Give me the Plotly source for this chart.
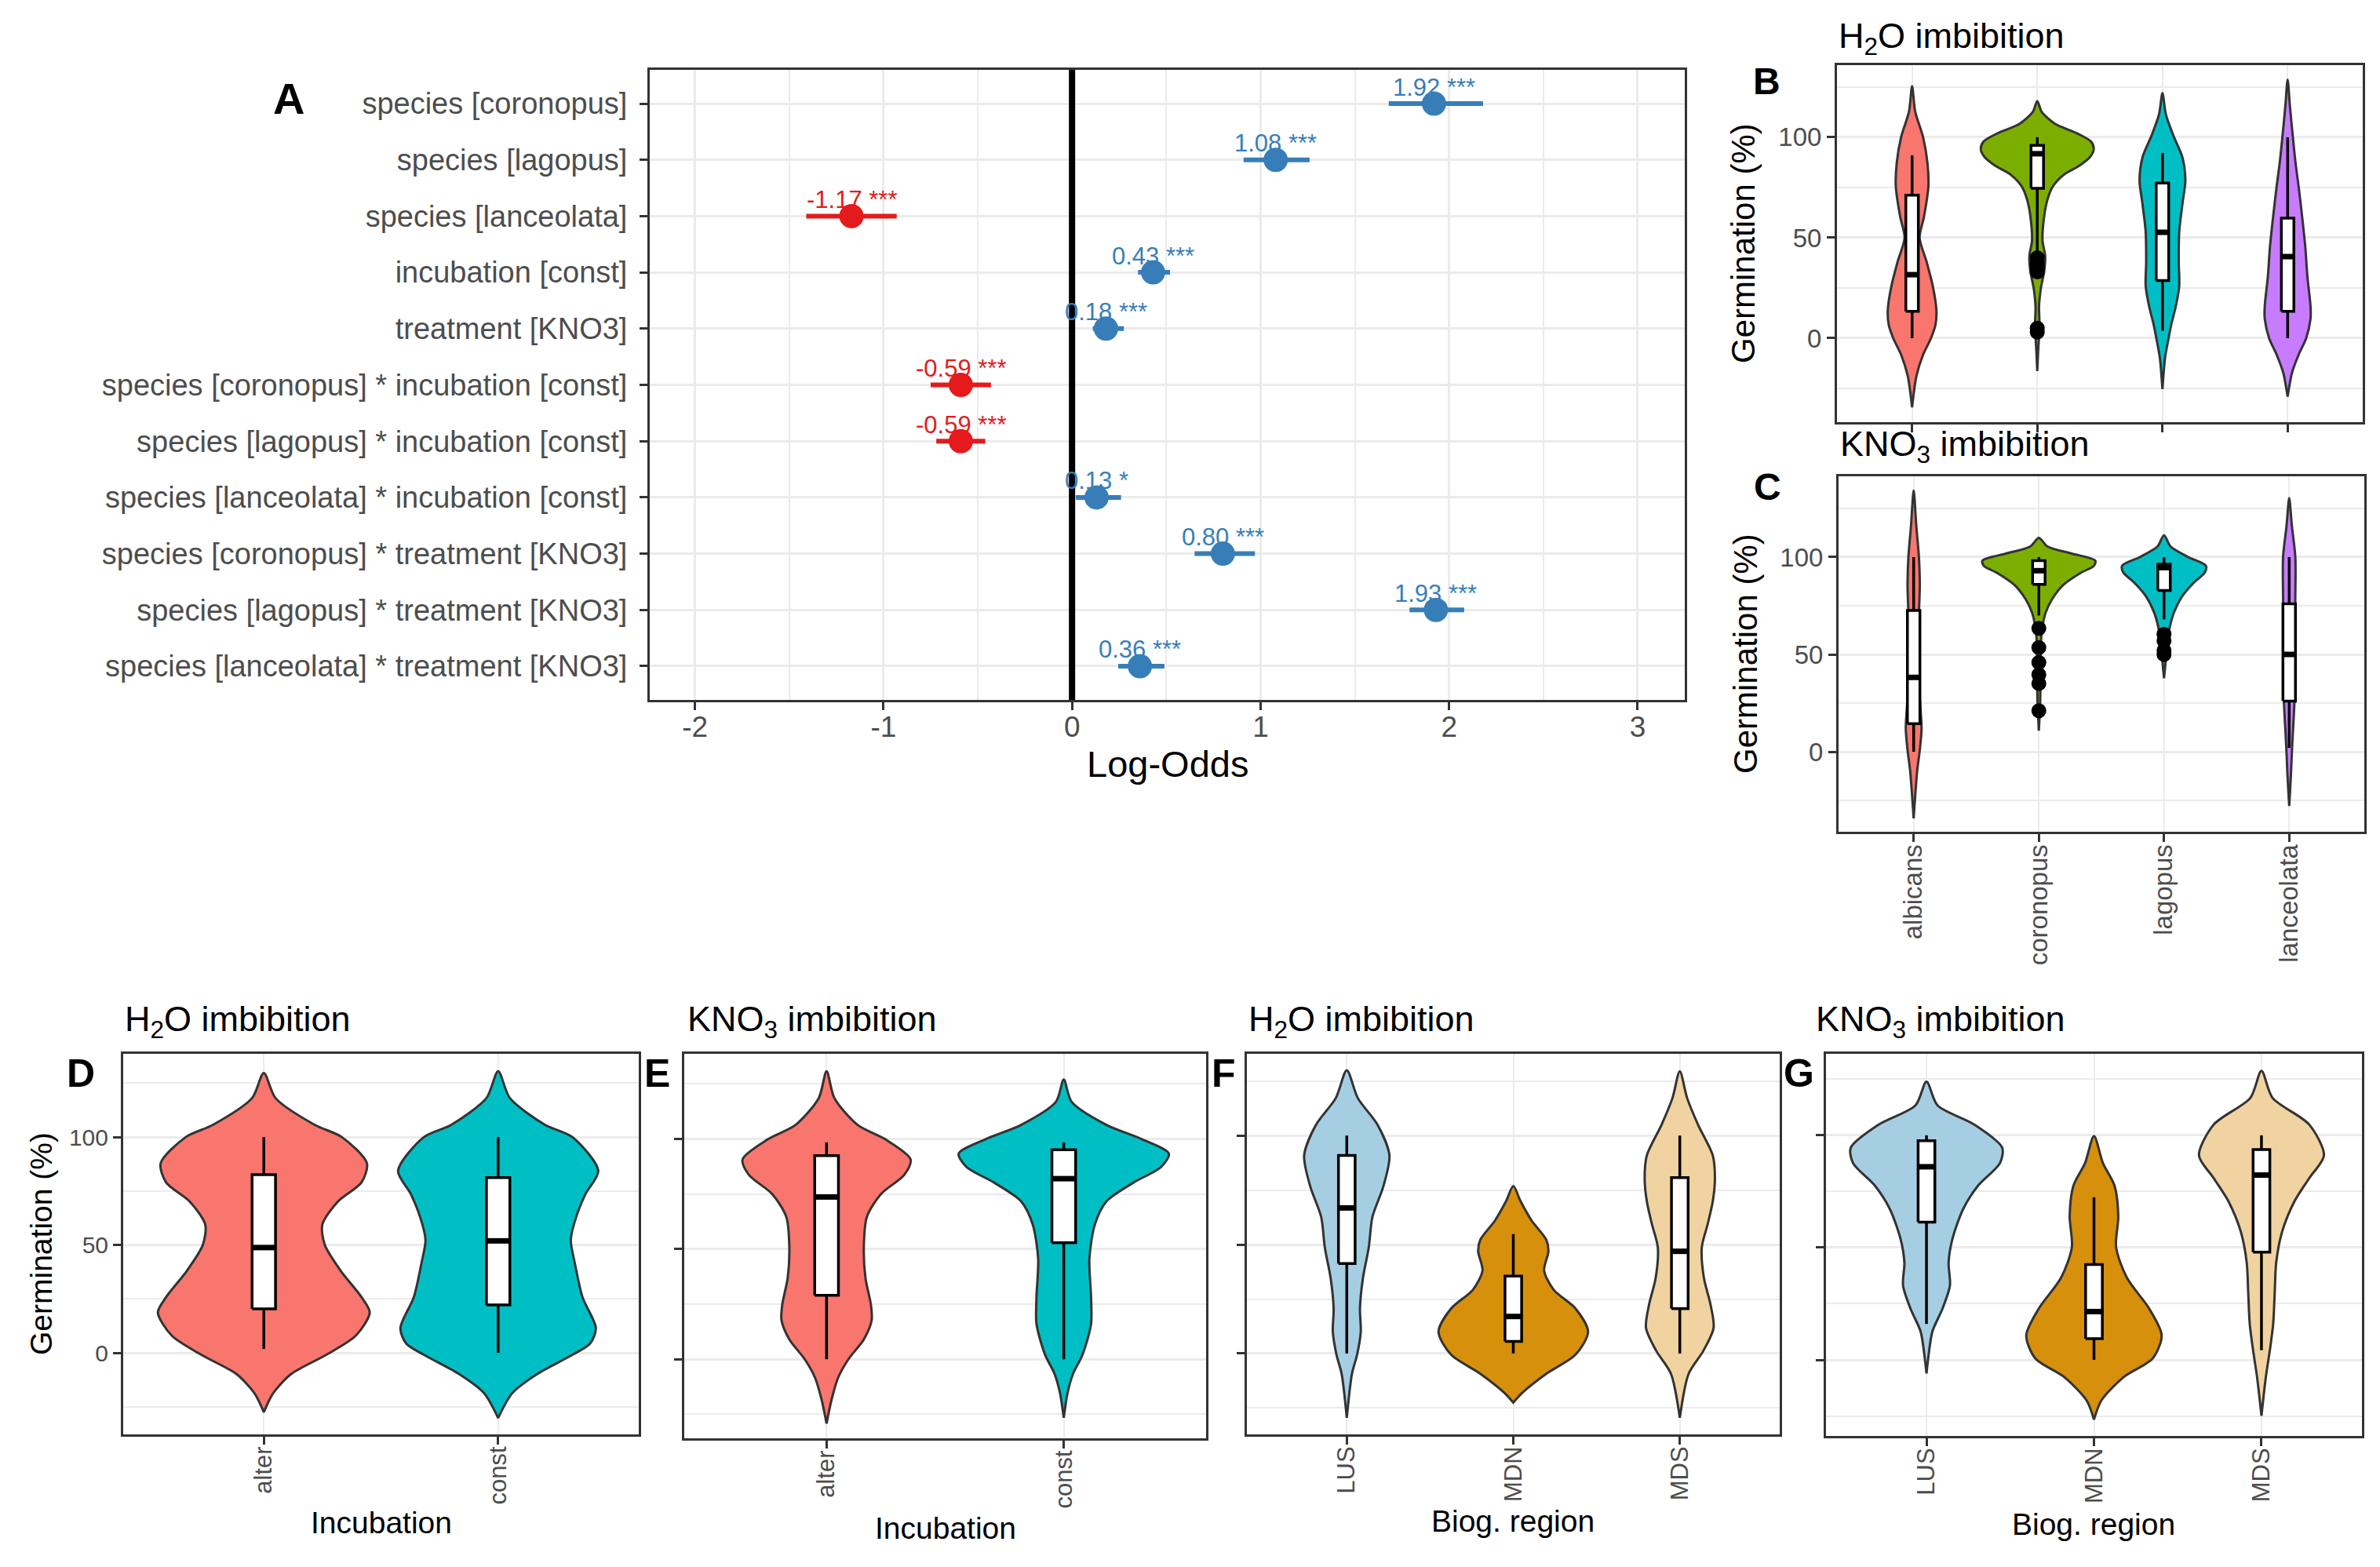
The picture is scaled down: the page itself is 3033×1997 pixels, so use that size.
import plotly.graph_objects as go

W, H = 3033, 1997
FONT = "Liberation Sans, Arial, sans-serif"
GRID = "#EBEBEB"
BORDER = "#333333"
TICKTXT = "#4D4D4D"

# ---------------- Panel A data ----------------
terms = ["species [coronopus]", "species [lagopus]", "species [lanceolata]",
         "incubation [const]", "treatment [KNO3]",
         "species [coronopus] * incubation [const]",
         "species [lagopus] * incubation [const]",
         "species [lanceolata] * incubation [const]",
         "species [coronopus] * treatment [KNO3]",
         "species [lagopus] * treatment [KNO3]",
         "species [lanceolata] * treatment [KNO3]"]
estimates = [1.92, 1.08, -1.17, 0.43, 0.18, -0.59, -0.59, 0.13, 0.80, 1.93, 0.36]
ci_low = [1.68, 0.91, -1.41, 0.35, 0.11, -0.75, -0.72, 0.02, 0.65, 1.79, 0.245]
ci_high = [2.18, 1.26, -0.93, 0.52, 0.275, -0.43, -0.46, 0.26, 0.97, 2.08, 0.49]
stars = ["***", "***", "***", "***", "***", "***", "***", "*", "***", "***", "***"]
a_xticks = [-2, -1, 0, 1, 2, 3]

# ---------------- Panel B (H2O, species) ----------------
species = ["albicans", "coronopus", "lagopus", "lanceolata"]
species_colors = ["#F8766D", "#7CAE00", "#00BFC4", "#C77CFF"]
B_dens_y = [
    [125.4, 112.7, 100, 87, 75.4, 60.4, 50, 38, 26, 14, 6.7, 0, -8.2, -18.7, -34.4],
    [118, 112.7, 106.7, 102, 97.8, 94, 90.3, 85.8, 81.3, 75.4, 68, 57.5, 48.5, 41, 33.6, 24.6, 15.7, 6.7, 0.7, -6.7, -16.4],
    [121.9, 111.2, 100.7, 90.3, 78.4, 68, 53, 38, 26, 15.7, 6.7, 0, -9.7, -25.4],
    [128.7, 115.7, 100, 87.3, 75.4, 60.4, 45.5, 30.6, 15.7, 9.7, 0, -8.2, -17.2, -29.1],
]
B_dens_w = [
    [0, .025, .088, .123, .130, .095, .060, .116, .165, .194, .187, .151, .088, .035, 0],
    [0, .035, .141, .317, .430, .451, .423, .335, .211, .123, .077, .049, .042, .063, .056, .028, .014, .018, .014, .007, 0],
    [0, .028, .088, .158, .183, .162, .134, .130, .134, .106, .070, .049, .021, 0],
    [0, .018, .042, .063, .088, .116, .141, .158, .183, .183, .148, .088, .035, 0],
]
B_lower = [0, 42, 3.7, 0]
B_q1 = [13.4, 74.6, 28.7, 13.4]
B_med = [31.6, 91.8, 52.7, 40.6]
B_q3 = [71.2, 96, 77.2, 59.7]
B_upper = [91, 100, 92.2, 100]
B_out = [[], [40, 37, 35, 33, 5, 3], [], []]

# ---------------- Panel C (KNO3, species) ----------------
C_dens_y = [
    [134.2, 116.2, 100, 85.6, 71.2, 53.2, 35.1, 20.7, 11.7, 0.9, -9.9, -34.2],
    [109.9, 105.4, 101.8, 98.2, 95.5, 91.9, 85.6, 78.4, 71.2, 60.4, 44.1, 26.1, 10.8],
    [111.2, 105.4, 100, 95.5, 91.9, 87.4, 80.2, 71.2, 60.4, 49.5, 37.8],
    [130.3, 116.2, 100, 80.2, 62.2, 44.1, 26.1, 8.1, -0.9, -11.7, -27.9],
]
C_dens_w = [
    [0, .021, .042, .049, .042, .035, .042, .056, .063, .049, .028, 0],
    [0, .070, .264, .451, .440, .335, .194, .106, .053, .021, .014, .011, 0],
    [0, .053, .194, .335, .324, .246, .148, .077, .035, .018, 0],
    [0, .021, .049, .049, .046, .042, .042, .028, .021, .014, 0],
]
C_lower = [0, 70, 68, 2]
C_q1 = [14.4, 86, 82.9, 26]
C_med = [38.2, 93, 94.6, 50]
C_q3 = [72.6, 98.2, 96.4, 76]
C_upper = [100, 100, 100, 100]
C_out = [[], [63.4, 53.5, 45.9, 39.6, 35.1, 21.1], [60.4, 57, 52, 50], []]

# ---------------- Panels D, E (incubation) ----------------
incubation = ["alter", "const"]
incubation_colors = ["#F8766D", "#00BFC4"]
D_dens_y = [
    [129.7, 118.1, 105.7, 100, 87.9, 79, 70.2, 59.5, 50.1, 38.2, 25.8, 18.7, 8, -0.9, -9.8, -18.7, -27.5],
    [130.5, 118.1, 105.7, 100, 84.4, 73.7, 63, 52.4, 41.7, 25.8, 11.5, 4.4, -0.9, -9.8, -18.7, -30.2],
]
D_dens_w = [
    [0, .05, .217, .333, .44, .417, .317, .25, .26, .327, .417, .452, .393, .267, .117, .04, 0],
    [0, .05, .2, .317, .427, .373, .333, .31, .327, .36, .417, .393, .317, .167, .06, 0],
]
D_lower = [1.8, 0]
D_q1 = [20.4, 22.2]
D_med = [48.8, 51.9]
D_q3 = [82.6, 81.2]
D_upper = [100, 100]

E_dens_y = [
    [130.8, 118.6, 106.4, 100, 90.8, 83.8, 75.1, 64.7, 50.8, 36.9, 24.7, 17.7, 9, 0, -8.3, -18.8, -29.2],
    [127, 116.9, 106.4, 100, 93.4, 87.3, 80.3, 71.7, 61.2, 45.6, 28.2, 16, 2.1, -6.6, -15.3, -26.6],
]
E_dens_w = [
    [0, .033, .131, .246, .354, .328, .230, .170, .157, .164, .187, .190, .157, .092, .049, .020, 0],
    [0, .033, .180, .328, .443, .410, .295, .180, .131, .108, .115, .115, .079, .039, .016, 0],
]
E_lower = [0, 0]
E_q1 = [29, 52.9]
E_med = [73.7, 82]
E_q3 = [92.5, 95.1]
E_upper = [98.5, 98.5]

# ---------------- Panels F, G (biogeographic region) ----------------
regions = ["LUS", "MDN", "MDS"]
region_colors = ["#A6CEE3", "#D6900C", "#F1D3A1"]
F_dens_y = [
    [129.9, 117.2, 104.9, 90.9, 76.8, 62.7, 48.7, 34.6, 20.6, 10, -0.5, -9.3, -29.5],
    [76.8, 69.8, 61, 52.2, 46.9, 38.1, 29.3, 20.6, 10, -0.5, -9.3, -18.1, -22.5],
    [129.5, 117.2, 104.9, 90.9, 80.3, 69.8, 59.2, 48.7, 34.6, 22.3, 11.8, 1.2, -9.3, -29.5],
]
F_dens_w = [
    [0, .066, .185, .256, .220, .154, .132, .097, .079, .084, .062, .031, 0],
    [0, .044, .110, .198, .211, .185, .242, .374, .449, .374, .198, .053, 0],
    [0, .044, .110, .198, .211, .198, .167, .132, .145, .185, .203, .141, .053, 0],
]
F_lower = [0, 0, 0]
F_q1 = [41.3, 5.6, 20.6]
F_med = [66.8, 17, 46.9]
F_q3 = [90.9, 35.5, 80.7]
F_upper = [100, 54.8, 100]

G_dens_y = [
    [123.9, 113.3, 104.8, 94.5, 87.7, 77.5, 67.2, 53.6, 43.3, 33.1, 22.9, 12.6, 2.4, -6.1],
    [99.7, 87.7, 77.5, 63.8, 50.2, 36.5, 22.9, 10.9, 0.7, -7.8, -18.1, -26.6],
    [128.7, 116.7, 104.8, 91.1, 80.9, 70.6, 57, 43.3, 29.7, 16, 5.8, -7.8, -24.9],
]
G_dens_w = [
    [0, .066, .285, .452, .439, .307, .219, .154, .132, .140, .096, .035, .013, 0],
    [0, .053, .123, .145, .132, .197, .329, .404, .351, .175, .044, 0],
    [0, .066, .285, .373, .285, .197, .123, .088, .079, .070, .053, .026, 0],
]
G_lower = [16, 0, 4.3]
G_q1 = [61.3, 9.4, 48]
G_med = [86, 21.5, 82.3]
G_q3 = [97.6, 42.5, 93.7]
G_upper = [100, 72.4, 100]

germ_ticks = [0, 50, 100]
BOX_HALF = 0.05  # half box width in category units (style)

# ---------------- helpers ----------------
def fx(p):
    return p / W


def fy(p):
    return 1 - p / H


fig = go.Figure()
annotations = []

# ---------------- Panel A ----------------
rows = list(range(1, len(terms) + 1))
cols = ["#377EB8" if e > 0 else "#E41A1C" for e in estimates]
for sign, colr in [(1, "#377EB8"), (-1, "#E41A1C")]:
    idx = [i for i, e in enumerate(estimates) if e * sign > 0]
    fig.add_trace(go.Scatter(
        x=[estimates[i] for i in idx], y=[rows[i] for i in idx], mode="markers",
        marker=dict(size=31, color=colr),
        error_x=dict(type="data", symmetric=False,
                     array=[ci_high[i] - estimates[i] for i in idx],
                     arrayminus=[estimates[i] - ci_low[i] for i in idx],
                     thickness=6, width=0, color=colr),
        xaxis="x", yaxis="y", showlegend=False, hoverinfo="skip"))
for e, r, s, c in zip(estimates, rows, stars, cols):
    annotations.append(dict(x=e, y=r, xref="x", yref="y", text=f"{e:.2f} {s}",
                            showarrow=False, yshift=21, xanchor="center", yanchor="middle",
                            font=dict(size=31, color=c, family=FONT)))

fig.add_shape(type="line", x0=0, x1=0, y0=0, y1=1, xref="x", yref="y domain",
              line=dict(color="black", width=8))

layout_axes = {}
layout_axes["xaxis"] = dict(
    domain=[fx(820), fx(2139)], range=[-2.24, 3.25], anchor="y",
    tickmode="array", tickvals=a_xticks, ticktext=[str(t) for t in a_xticks],
    minor=dict(tickmode="array", tickvals=[-2.5, -1.5, -0.5, 0.5, 1.5, 2.5],
               showgrid=True, gridcolor=GRID, gridwidth=1.5, ticks=""),
    showgrid=True, gridcolor=GRID, gridwidth=3, zeroline=False,
    showline=True, mirror=True, linecolor=BORDER, linewidth=3,
    ticks="outside", ticklen=10, tickwidth=3, tickcolor=BORDER, ticklabelstandoff=-10,
    tickfont=dict(size=37, color=TICKTXT, family=FONT))
layout_axes["yaxis"] = dict(
    domain=[fy(884), fy(81)], range=[11.6, 0.4], anchor="x",
    tickmode="array", tickvals=rows, ticktext=terms,
    showgrid=True, gridcolor=GRID, gridwidth=3, zeroline=False,
    showline=True, mirror=True, linecolor=BORDER, linewidth=3,
    ticks="outside", ticklen=10, tickwidth=3, tickcolor=BORDER, ticklabelstandoff=8,
    tickfont=dict(size=38, color=TICKTXT, family=FONT))
annotations.append(dict(x=fx(1480), y=fy(965), xref="paper", yref="paper",
                        text="Log-Odds", showarrow=False, xanchor="center", yanchor="middle",
                        font=dict(size=47, color="black", family=FONT)))


# ---------------- violin panels ----------------
def violin_panel(idx, cats, colors, dens_y, dens_w, lower, q1, med, q3, upper,
                 outliers, xdom, ydom, yrange, show_y, show_x, xfont, yfont):
    xa = f"x{idx}"
    ya = f"y{idx}"
    pos = list(range(1, len(cats) + 1))
    # violins (density outlines)
    for c, col, ys, ws in zip(pos, colors, dens_y, dens_w):
        xs = [c + w for w in ws] + [c - w for w in reversed(ws)]
        yy = list(ys) + list(reversed(ys))
        fig.add_trace(go.Scatter(x=xs, y=yy, mode="lines", fill="toself",
                                 fillcolor=col,
                                 line=dict(color=BORDER, width=3, shape="spline", smoothing=0.8),
                                 xaxis=xa, yaxis=ya, showlegend=False, hoverinfo="skip"))
    # box plots
    for i, c in enumerate(pos):
        fig.add_trace(go.Scatter(x=[c, c, None, c, c], y=[lower[i], q1[i], None, q3[i], upper[i]],
                                 mode="lines", line=dict(color="black", width=3.5),
                                 xaxis=xa, yaxis=ya, showlegend=False, hoverinfo="skip"))
        fig.add_trace(go.Scatter(x=[c - BOX_HALF, c + BOX_HALF, c + BOX_HALF, c - BOX_HALF, c - BOX_HALF],
                                 y=[q1[i], q1[i], q3[i], q3[i], q1[i]],
                                 mode="lines", fill="toself", fillcolor="white",
                                 line=dict(color="black", width=3.5),
                                 xaxis=xa, yaxis=ya, showlegend=False, hoverinfo="skip"))
        fig.add_trace(go.Scatter(x=[c - BOX_HALF, c + BOX_HALF], y=[med[i], med[i]], mode="lines",
                                 line=dict(color="black", width=7),
                                 xaxis=xa, yaxis=ya, showlegend=False, hoverinfo="skip"))
    if outliers:
        for c, outs in zip(pos, outliers):
            if outs:
                fig.add_trace(go.Scatter(x=[c] * len(outs), y=outs, mode="markers",
                                         marker=dict(size=19, color="black"),
                                         xaxis=xa, yaxis=ya, showlegend=False, hoverinfo="skip"))
    layout_axes[f"xaxis{idx}"] = dict(
        domain=[fx(xdom[0]), fx(xdom[1])], range=[0.4, len(cats) + 0.6], anchor=ya,
        tickmode="array", tickvals=pos, ticktext=cats, showticklabels=show_x, tickangle=-90,
        showgrid=True, gridcolor=GRID, gridwidth=2, zeroline=False,
        showline=True, mirror=True, linecolor=BORDER, linewidth=3,
        ticks="outside", ticklen=10, tickwidth=3, tickcolor=BORDER, ticklabelstandoff=-10,
        tickfont=dict(size=xfont, color=TICKTXT, family=FONT))
    layout_axes[f"yaxis{idx}"] = dict(
        domain=[fy(ydom[1]), fy(ydom[0])], range=yrange, anchor=xa,
        tickmode="array", tickvals=germ_ticks, ticktext=[str(t) for t in germ_ticks],
        showticklabels=show_y,
        minor=dict(tickmode="array", tickvals=[-25, 25, 75, 125], showgrid=True,
                   gridcolor=GRID, gridwidth=1.5, ticks=""),
        showgrid=True, gridcolor=GRID, gridwidth=3, zeroline=False,
        showline=True, mirror=True, linecolor=BORDER, linewidth=3,
        ticks="outside", ticklen=10, tickwidth=3, tickcolor=BORDER,
        tickfont=dict(size=yfont, color=TICKTXT, family=FONT))


violin_panel(2, species, species_colors, B_dens_y, B_dens_w, B_lower, B_q1, B_med, B_q3, B_upper,
             B_out, (2333, 3003), (75, 530), [-41.8, 135.9], True, False, 33, 33)
violin_panel(3, species, species_colors, C_dens_y, C_dens_w, C_lower, C_q1, C_med, C_q3, C_upper,
             C_out, (2335, 3005), (599, 1052), [-41.1, 141.5], True, True, 33, 33)
violin_panel(4, incubation, incubation_colors, D_dens_y, D_dens_w, D_lower, D_q1, D_med, D_q3, D_upper,
             None, (149, 806), (1335, 1820), [-37.8, 138.6], True, True, 31, 30)
violin_panel(5, incubation, incubation_colors, E_dens_y, E_dens_w, E_lower, E_q1, E_med, E_q3, E_upper,
             None, (864, 1529), (1335, 1825), [-35.9, 138.7], False, True, 31, 30)
violin_panel(6, regions, region_colors, F_dens_y, F_dens_w, F_lower, F_q1, F_med, F_q3, F_upper,
             None, (1581, 2260), (1335, 1820), [-37.1, 137.5], False, True, 31, 30)
violin_panel(7, regions, region_colors, G_dens_y, G_dens_w, G_lower, G_q1, G_med, G_q3, G_upper,
             None, (2319, 3002), (1335, 1822), [-33.9, 136.3], False, True, 31, 30)

# titles
h2o = "H<sub>2</sub>O imbibition"
kno3 = "KNO<sub>3</sub> imbibition"
for txt, x0, yc in [(h2o, 2333, 40), (kno3, 2335, 560), (h2o, 149, 1293),
                    (kno3, 866, 1293), (h2o, 1581, 1293), (kno3, 2304, 1293)]:
    annotations.append(dict(x=fx(x0), y=fy(yc), xref="paper", yref="paper", text=txt,
                            showarrow=False, xanchor="left", yanchor="middle",
                            font=dict(size=45, color="black", family=FONT)))

# axis titles
for xc, yc, sz in [(2214, 302, 42), (2217, 825, 42), (44, 1577, 39)]:
    annotations.append(dict(x=fx(xc), y=fy(yc), xref="paper", yref="paper",
                            text="Germination (%)", textangle=-90, showarrow=False,
                            xanchor="center", yanchor="middle",
                            font=dict(size=sz, color="black", family=FONT)))
for txt, xc, yc in [("Incubation", 478, 1932), ("Incubation", 1197, 1939),
                    ("Biog. region", 1920, 1930), ("Biog. region", 2660, 1934)]:
    annotations.append(dict(x=fx(xc), y=fy(yc), xref="paper", yref="paper", text=txt,
                            showarrow=False, xanchor="center", yanchor="middle",
                            font=dict(size=39, color="black", family=FONT)))

# panel letters
for txt, xc, yc, sz in [("A", 360, 118, 56), ("B", 2243, 95, 48), ("C", 2244, 612, 48),
                        ("D", 95, 1360, 50), ("E", 829, 1360, 50), ("F", 1551, 1360, 50),
                        ("G", 2284, 1360, 50)]:
    annotations.append(dict(x=fx(xc), y=fy(yc), xref="paper", yref="paper",
                            text=f"<b>{txt}</b>", showarrow=False,
                            xanchor="center", yanchor="middle",
                            font=dict(size=sz, color="black", family=FONT)))

fig.update_layout(width=W, height=H, margin=dict(l=0, r=0, t=0, b=0),
                  paper_bgcolor="white", plot_bgcolor="white",
                  font=dict(family=FONT), annotations=annotations,
                  showlegend=False, **layout_axes)

fig.write_html("out.html")
